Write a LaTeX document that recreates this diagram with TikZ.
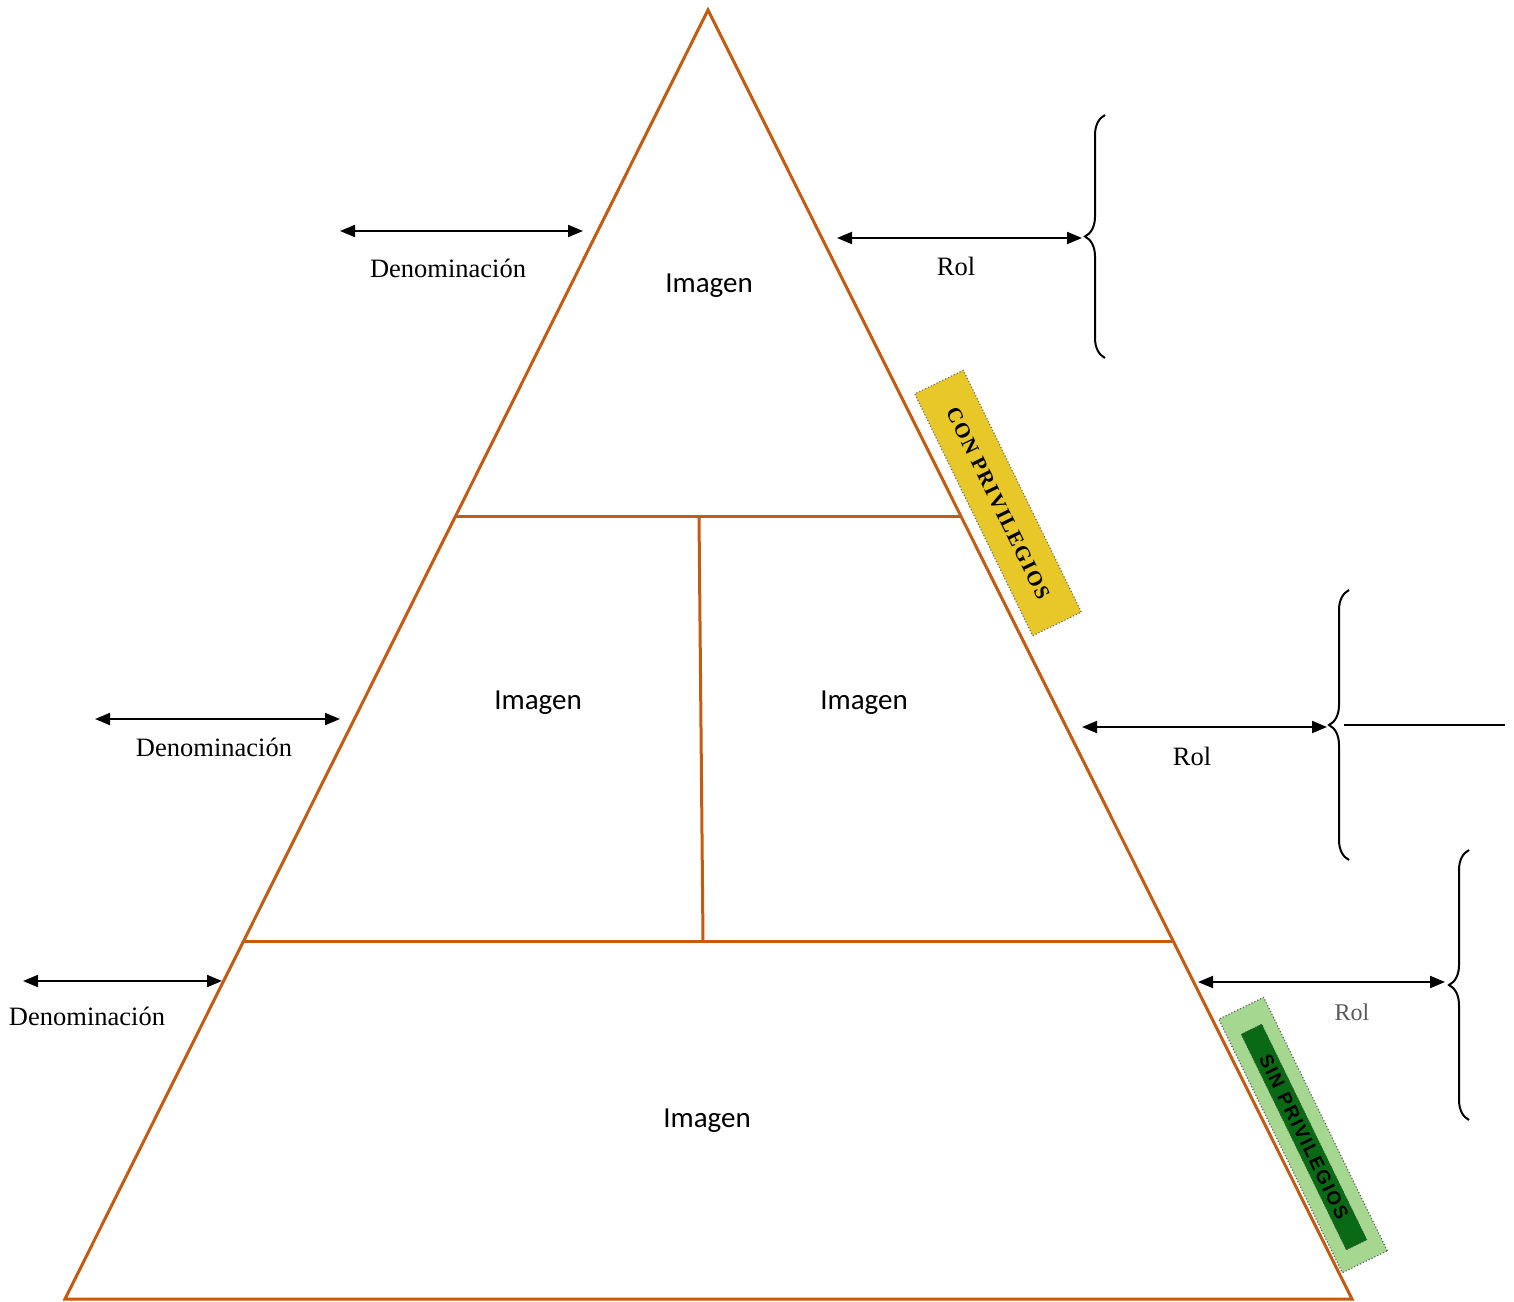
\documentclass[tikz,border=0pt]{standalone}
\usepackage{fontspec}
\setmainfont{Liberation Serif}
\newfontfamily\calib{Carlito}
\newfontfamily\sinfont[LetterSpace=9]{Liberation Sans}
\newfontfamily\confont[LetterSpace=7]{Liberation Serif}
\usetikzlibrary{arrows.meta,decorations.pathreplacing}
\definecolor{tricol}{RGB}{197,90,17}
\definecolor{goldcol}{RGB}{232,200,40}
\definecolor{lgreen}{RGB}{165,215,145}
\definecolor{dgreen}{RGB}{10,105,20}
\begin{document}
\begin{tikzpicture}[x=1pt,y=-1pt,
  triline/.style={draw=tricol, line width=3pt, line join=miter},
  darrow/.style={{Triangle[length=15pt,width=12pt]}-{Triangle[length=15pt,width=12pt]}, line width=2pt},
  lbl/.style={font=\fontsize{26.5}{30}\selectfont, inner sep=0pt},
  img/.style={font=\calib\fontsize{29}{34}\selectfont, inner sep=0pt},
  bracel/.style={decorate, decoration={brace, amplitude=20pt, aspect=0.5}, line width=2pt},
]
\useasboundingbox (0,0) rectangle (1514,1301);

% yellow label (behind triangle)
\node[draw=black!55, dotted, line width=1.2pt, fill=goldcol, minimum width=269pt, minimum height=54pt,
      rotate=-64, inner sep=0pt, font=\confont\bfseries\fontsize{21}{24}\selectfont] (con) at (998,503) {CON PRIVILEGIOS};

% triangle
\coordinate (apex) at (708,10);
\coordinate (bl) at (65,1299);
\coordinate (br) at (1352,1299);
\coordinate (m1l) at (456,516);
\coordinate (m1r) at (960,516);
\coordinate (m2l) at (244,941);
\coordinate (m2r) at (1172,941);
\coordinate (vt) at (699,516);
\coordinate (vb) at (703,941);
\draw[triline] (apex) -- (bl) -- (br) -- cycle;
\draw[triline] (m1l) -- (m1r);
\draw[triline] (m2l) -- (m2r);
\draw[triline] (vt) -- (vb);

% green label (over triangle)
\node[draw=black!60, dotted, line width=1.2pt, fill=lgreen, minimum width=282pt, minimum height=50pt,
      rotate=-64, inner sep=0pt] (sinout) at (1303,1135) {};
\node[draw=black!70, dotted, line width=0.8pt, fill=dgreen, minimum width=240pt, minimum height=23pt,
      rotate=-64, inner sep=0pt, font=\sinfont\bfseries\fontsize{19}{22}\selectfont] (sin) at (1304,1137) {SIN PRIVILEGIOS};

% image labels
\node[img] (i1) at (709,286) {Imagen};
\node[img] (i2) at (538,703) {Imagen};
\node[img] (i3) at (864,703) {Imagen};
\node[img] (i4) at (707,1121) {Imagen};

% arrows
\coordinate (a1l) at (340,231); \coordinate (a1r) at (583,231);
\coordinate (a2l) at (837,238); \coordinate (a2r) at (1082,238);
\coordinate (a3l) at (95,719);  \coordinate (a3r) at (340,719);
\coordinate (a4l) at (1082,727); \coordinate (a4r) at (1327,727);
\coordinate (a5l) at (23,981);  \coordinate (a5r) at (222,981);
\coordinate (a6l) at (1198,982); \coordinate (a6r) at (1445,982);
\draw[darrow] (a1l) -- (a1r);
\draw[darrow] (a2l) -- (a2r);
\draw[darrow] (a3l) -- (a3r);
\draw[darrow] (a4l) -- (a4r);
\draw[darrow] (a5l) -- (a5r);
\draw[darrow] (a6l) -- (a6r);

% text labels
\node[lbl] (d1) at (448,268) {Denominación};
\node[lbl] (r1) at (956,266) {Rol};
\node[lbl] (d2) at (214,747) {Denominación};
\node[lbl] (r2) at (1192,756) {Rol};
\node[lbl] (d3) at (87,1016) {Denominación};
\node[lbl, text=black!65, font=\fontsize{24}{28}\selectfont] (r3) at (1352,1012) {Rol};

% braces
\coordinate (b1b) at (1105,358); \coordinate (b1t) at (1105,115);
\coordinate (b2b) at (1349,860); \coordinate (b2t) at (1349,590);
\coordinate (b3b) at (1469,1120); \coordinate (b3t) at (1469,850);
\draw[bracel] (b1b) -- (b1t);
\draw[bracel] (b2b) -- (b2t);
\draw[bracel] (b3b) -- (b3t);
\coordinate (l2a) at (1344,725); \coordinate (l2b) at (1505,725);
\draw[line width=2pt] (l2a) -- (l2b);
\end{tikzpicture}
\end{document}
